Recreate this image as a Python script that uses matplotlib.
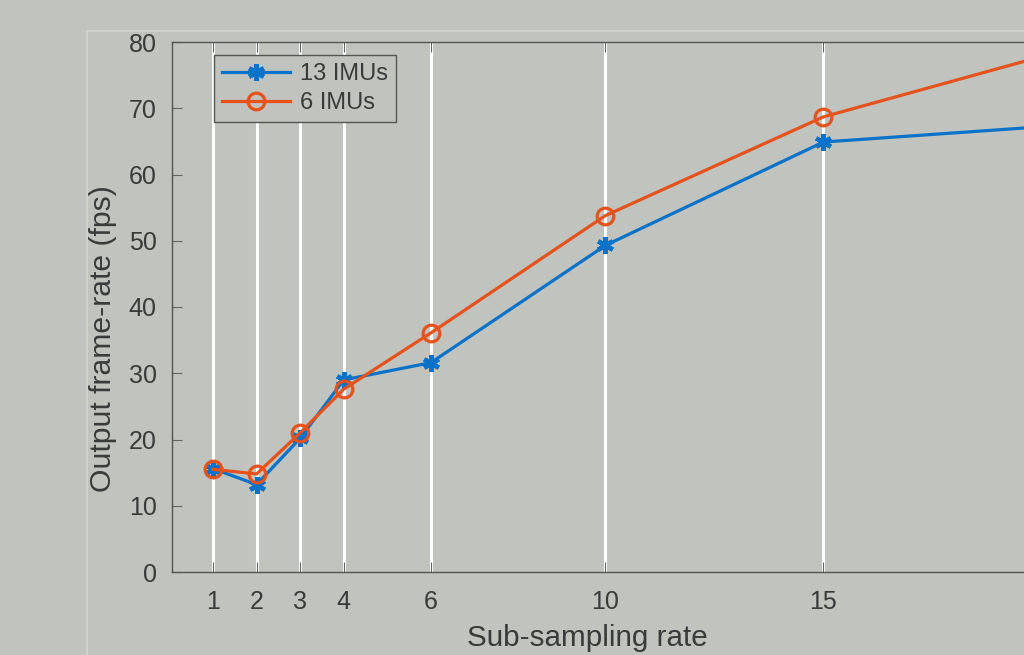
import matplotlib.pyplot as plt
from matplotlib.patches import Rectangle

# dados
rates = [1, 2, 3, 4, 6, 10, 15, 20]
imu13 = [15.6, 13.2, 20.2, 29.0, 31.6, 49.3, 64.9, 67.2]
imu6 = [15.5, 14.8, 21.0, 27.6, 36.1, 53.8, 68.7, 77.8]
xticks = [1, 2, 3, 4, 6, 10, 15]
yticks = [0, 10, 20, 30, 40, 50, 60, 70, 80]

bg = '#c0c3be'
txt = '#3a3a3a'
plt.rcParams['font.family'] = ['Liberation Sans', 'DejaVu Sans']

fig = plt.figure(figsize=(10.24, 6.55), dpi=100, facecolor=bg)
# borda clara do painel da figura
fig.patches.append(Rectangle((87 / 1024, -0.1), 1.0, 1 - 31 / 655 + 0.1,
                             transform=fig.transFigure, fill=False,
                             edgecolor='#d2d5d0', linewidth=1.2))

ax = fig.add_axes([172 / 1024, 1 - 572 / 655, 1 - 172 / 1024, (572 - 42) / 655])
ax.set_facecolor(bg)

for xt in xticks:
    ax.axvline(xt, color='white', linewidth=2.2, zorder=1)

ax.plot(rates, imu13, '-', color='#0a72c8', marker=(6, 2, 0), markersize=12,
        markeredgewidth=3.2, linewidth=2.3, label='13 IMUs', zorder=3)
ax.plot(rates, imu6, '-', color='#e5521c', marker='o', markersize=12,
        markerfacecolor='none', markeredgewidth=2.3, linewidth=2.3,
        label='6 IMUs', zorder=4)

ax.set_xlim(0.06, 19.6)
ax.set_ylim(0, 80)
ax.set_xticks(xticks)
ax.set_yticks(yticks)
ax.tick_params(direction='in', colors='#666666', labelcolor=txt, labelsize=18,
               length=7, top=True)
ax.tick_params(axis='y', pad=11)
ax.tick_params(axis='x', pad=13)
for s in ['left', 'bottom', 'top']:
    ax.spines[s].set_color('#555555')
    ax.spines[s].set_linewidth(1.0)
ax.spines['right'].set_visible(False)

ax.set_xlabel('Sub-sampling rate', fontsize=21.3, color=txt)
ax.xaxis.set_label_coords(0.487, -0.099)
ax.set_ylabel('Output frame-rate (fps)', fontsize=21.7, color=txt)
ax.yaxis.set_label_coords(-0.064, 0.44)

leg = ax.legend(loc='upper left', bbox_to_anchor=(0.049, 0.976), fontsize=17,
                frameon=True, fancybox=False, facecolor=bg, framealpha=1,
                edgecolor='#555555', handlelength=2.9, borderpad=0.35,
                labelspacing=0.3, handletextpad=0.4, borderaxespad=0)
leg.get_frame().set_linewidth(1.0)
for t in leg.get_texts():
    t.set_color(txt)

plt.savefig('out.png', dpi=100, facecolor=bg)
